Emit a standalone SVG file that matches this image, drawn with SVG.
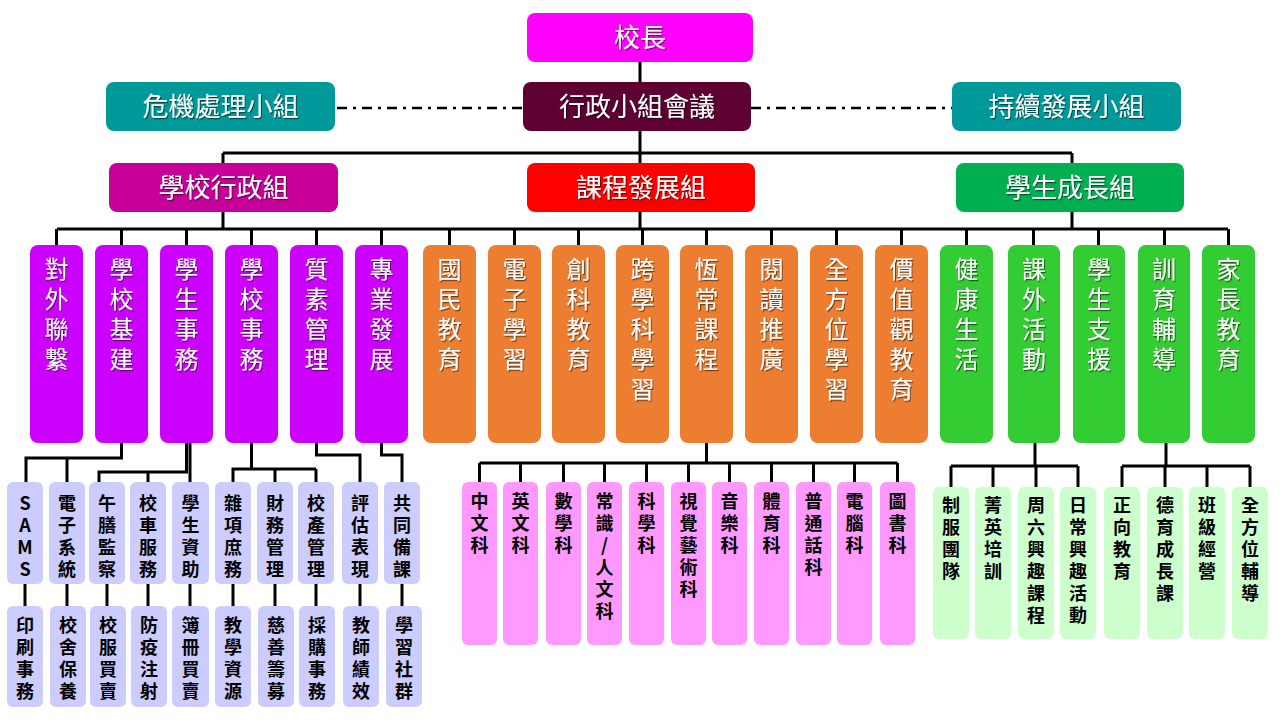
<svg xmlns="http://www.w3.org/2000/svg" width="1280" height="720" viewBox="0 0 1280 720">
<defs>
<filter id="sh" x="-30%" y="-10%" width="160%" height="120%"><feDropShadow dx="1" dy="1.2" stdDeviation="0.7" flood-color="#000" flood-opacity="0.55"/></filter>
</defs>
<style>
.t{font-family:"Noto Sans CJK TC","Noto Sans CJK SC",sans-serif;fill:#fff;text-anchor:middle;filter:url(#sh)}
.t26{font-size:26px}
.v{writing-mode:vertical-rl;text-orientation:upright;text-anchor:start}
.t24{font-size:24px;letter-spacing:6px}
.s{font-family:"Noto Sans CJK TC","Noto Sans CJK SC",sans-serif;font-weight:bold;font-size:18px;fill:#000;letter-spacing:4px}
.ln{stroke:#000;stroke-width:3;fill:none}
.dd{stroke:#000;stroke-width:2.5;fill:none;stroke-dasharray:10 6 3 6}
.pu{fill:#CC00FF}.or{fill:#ED7D31}.gr{fill:#33CC33}
.la{fill:#CCCCFF}.pk{fill:#FF99FF}.pg{fill:#CCFFCC}
</style>
<rect width="1280" height="720" fill="#fff"/>
<g id="connectors">
<path class="ln" d="M640 62V229M223 153H1072M223 153V163M1072 153V163M223 212V229M1072 212V229M57 229H1228"/>
<path class="dd" d="M337 108H523M751 108H952"/>
<path class="ln" d="M56.5 229V245M121.5 229V245M186.5 229V245M251.5 229V245M316.5 229V245M381.5 229V245M449.5 229V245M514.5 229V245M578.5 229V245M642.5 229V245M706.5 229V245M771.5 229V245M836.5 229V245M901.5 229V245M966.5 229V245M1033.5 229V245M1098.5 229V245M1164.5 229V245M1228.5 229V245"/>
<path class="ln" d="M121.5 443V458H26V482M67 458V482M186.5 443V472H99V482M148 472V482M190 443V482M251.5 443V469H233V482M275 469V482M316 469H251.5M316 469V482M316.5 443V455H360V482M381.5 443V455H402V482"/>
<path class="ln" d="M25 584V606M67 584V606M107 584V606M148 584V606M190 584V606M233 584V606M275 584V606M316 584V606M360 584V606M402 584V606"/>
<path class="ln" d="M706.5 443V463M479.5 463H897.5M479.5 463V482M520.5 463V482M563.5 463V482M604.5 463V482M646.5 463V482M688.5 463V482M729.5 463V482M771.5 463V482M813.5 463V482M854.5 463V482M897.5 463V482"/>
<path class="ln" d="M1035 443V466M951 466H1078M951 466V487M993 466V487M1036 466V487M1078 466V487M1166 443V466M1122 466H1250M1122 466V487M1165 466V487M1207 466V487M1250 466V487"/>
</g>
<g id="principal"><rect x="527" y="13" width="226" height="49" rx="8" fill="#FF00FF"/><text class="t t26" x="640" y="47">校長</text></g>
<g id="admin-meeting"><rect x="523" y="82" width="228" height="49" rx="8" fill="#5E0032"/><text class="t t26" x="637" y="116">行政小組會議</text></g>
<g id="crisis"><rect x="106" y="82" width="229" height="49" rx="8" fill="#00999A"/><text class="t t26" x="220.5" y="116">危機處理小組</text></g>
<g id="sustain"><rect x="952" y="82" width="229" height="49" rx="8" fill="#00999A"/><text class="t t26" x="1066.5" y="116">持續發展小組</text></g>
<g id="school-admin"><rect x="109" y="163" width="229" height="49" rx="8" fill="#C8009A"/><text class="t t26" x="223.5" y="197">學校行政組</text></g>
<g id="curriculum"><rect x="527" y="163" width="228" height="49" rx="8" fill="#FF0000"/><text class="t t26" x="641" y="197">課程發展組</text></g>
<g id="student-growth"><rect x="956" y="163" width="228" height="49" rx="8" fill="#00B050"/><text class="t t26" x="1070" y="197">學生成長組</text></g>

<g id="c1"><rect class="pu" x="30" y="245" width="53" height="198" rx="8"/><text class="t v t24" x="56.5" y="257">對外聯繫</text></g>
<g id="c2"><rect class="pu" x="95" y="245" width="53" height="198" rx="8"/><text class="t v t24" x="121.5" y="257">學校基建</text></g>
<g id="c3"><rect class="pu" x="160" y="245" width="53" height="198" rx="8"/><text class="t v t24" x="186.5" y="257">學生事務</text></g>
<g id="c4"><rect class="pu" x="225" y="245" width="53" height="198" rx="8"/><text class="t v t24" x="251.5" y="257">學校事務</text></g>
<g id="c5"><rect class="pu" x="290" y="245" width="53" height="198" rx="8"/><text class="t v t24" x="316.5" y="257">質素管理</text></g>
<g id="c6"><rect class="pu" x="355" y="245" width="53" height="198" rx="8"/><text class="t v t24" x="381.5" y="257">專業發展</text></g>
<g id="c7"><rect class="or" x="423" y="245" width="53" height="198" rx="8"/><text class="t v t24" x="449.5" y="257">國民教育</text></g>
<g id="c8"><rect class="or" x="488" y="245" width="53" height="198" rx="8"/><text class="t v t24" x="514.5" y="257">電子學習</text></g>
<g id="c9"><rect class="or" x="552" y="245" width="53" height="198" rx="8"/><text class="t v t24" x="578.5" y="257">創科教育</text></g>
<g id="c10"><rect class="or" x="616" y="245" width="53" height="198" rx="8"/><text class="t v t24" x="642.5" y="257">跨學科學習</text></g>
<g id="c11"><rect class="or" x="680" y="245" width="53" height="198" rx="8"/><text class="t v t24" x="706.5" y="257">恆常課程</text></g>
<g id="c12"><rect class="or" x="745" y="245" width="53" height="198" rx="8"/><text class="t v t24" x="771.5" y="257">閱讀推廣</text></g>
<g id="c13"><rect class="or" x="810" y="245" width="53" height="198" rx="8"/><text class="t v t24" x="836.5" y="257">全方位學習</text></g>
<g id="c14"><rect class="or" x="875" y="245" width="53" height="198" rx="8"/><text class="t v t24" x="901.5" y="257">價值觀教育</text></g>
<g id="c15"><rect class="gr" x="940" y="245" width="53" height="198" rx="8"/><text class="t v t24" x="966.5" y="257">健康生活</text></g>
<g id="c16"><rect class="gr" x="1008" y="245" width="52" height="198" rx="8"/><text class="t v t24" x="1034" y="257">課外活動</text></g>
<g id="c17"><rect class="gr" x="1073" y="245" width="52" height="198" rx="8"/><text class="t v t24" x="1099" y="257">學生支援</text></g>
<g id="c18"><rect class="gr" x="1138" y="245" width="52" height="198" rx="8"/><text class="t v t24" x="1164" y="257">訓育輔導</text></g>
<g id="c19"><rect class="gr" x="1202" y="245" width="53" height="198" rx="8"/><text class="t v t24" x="1228.5" y="257">家長教育</text></g>

<g id="a1"><rect class="la" x="7" y="482" width="36" height="102" rx="6"/><text class="s v" x="25" y="494">SAMS</text></g>
<g id="a2"><rect class="la" x="49" y="482" width="36" height="102" rx="6"/><text class="s v" x="67" y="494">電子系統</text></g>
<g id="a3"><rect class="la" x="89" y="482" width="36" height="102" rx="6"/><text class="s v" x="107" y="494">午膳監察</text></g>
<g id="a4"><rect class="la" x="130" y="482" width="36" height="102" rx="6"/><text class="s v" x="148" y="494">校車服務</text></g>
<g id="a5"><rect class="la" x="172" y="482" width="37" height="102" rx="6"/><text class="s v" x="190.5" y="494">學生資助</text></g>
<g id="a6"><rect class="la" x="215" y="482" width="36" height="102" rx="6"/><text class="s v" x="233" y="494">雜項庶務</text></g>
<g id="a7"><rect class="la" x="257" y="482" width="36" height="102" rx="6"/><text class="s v" x="275" y="494">財務管理</text></g>
<g id="a8"><rect class="la" x="298" y="482" width="36" height="102" rx="6"/><text class="s v" x="316" y="494">校產管理</text></g>
<g id="a9"><rect class="la" x="342" y="482" width="36" height="102" rx="6"/><text class="s v" x="360" y="494">評估表現</text></g>
<g id="a10"><rect class="la" x="384" y="482" width="36" height="102" rx="6"/><text class="s v" x="402" y="494">共同備課</text></g>

<g id="b1"><rect class="la" x="7" y="606" width="36" height="101" rx="6"/><text class="s v" x="25" y="616">印刷事務</text></g>
<g id="b2"><rect class="la" x="50" y="606" width="36" height="101" rx="6"/><text class="s v" x="68" y="616">校舍保養</text></g>
<g id="b3"><rect class="la" x="90" y="606" width="36" height="101" rx="6"/><text class="s v" x="108" y="616">校服買賣</text></g>
<g id="b4"><rect class="la" x="131" y="606" width="36" height="101" rx="6"/><text class="s v" x="149" y="616">防疫注射</text></g>
<g id="b5"><rect class="la" x="172" y="606" width="37" height="101" rx="6"/><text class="s v" x="190.5" y="616">簿冊買賣</text></g>
<g id="b6"><rect class="la" x="215" y="606" width="36" height="101" rx="6"/><text class="s v" x="233" y="616">教學資源</text></g>
<g id="b7"><rect class="la" x="258" y="606" width="36" height="101" rx="6"/><text class="s v" x="276" y="616">慈善籌募</text></g>
<g id="b8"><rect class="la" x="299" y="606" width="36" height="101" rx="6"/><text class="s v" x="317" y="616">採購事務</text></g>
<g id="b9"><rect class="la" x="343" y="606" width="36" height="101" rx="6"/><text class="s v" x="361" y="616">教師績效</text></g>
<g id="b10"><rect class="la" x="386" y="606" width="36" height="101" rx="6"/><text class="s v" x="404" y="616">學習社群</text></g>

<g id="p1"><rect class="pk" x="462" y="482" width="35" height="163" rx="6"/><text class="s v" x="479.5" y="492">中文科</text></g>
<g id="p2"><rect class="pk" x="503" y="482" width="35" height="163" rx="6"/><text class="s v" x="520.5" y="492">英文科</text></g>
<g id="p3"><rect class="pk" x="546" y="482" width="35" height="163" rx="6"/><text class="s v" x="563.5" y="492">數學科</text></g>
<g id="p4"><rect class="pk" x="587" y="482" width="35" height="163" rx="6"/><text class="s v" x="604.5" y="492">常識/人文科</text></g>
<g id="p5"><rect class="pk" x="629" y="482" width="35" height="163" rx="6"/><text class="s v" x="646.5" y="492">科學科</text></g>
<g id="p6"><rect class="pk" x="671" y="482" width="35" height="163" rx="6"/><text class="s v" x="688.5" y="492">視覺藝術科</text></g>
<g id="p7"><rect class="pk" x="712" y="482" width="35" height="163" rx="6"/><text class="s v" x="729.5" y="492">音樂科</text></g>
<g id="p8"><rect class="pk" x="754" y="482" width="35" height="163" rx="6"/><text class="s v" x="771.5" y="492">體育科</text></g>
<g id="p9"><rect class="pk" x="796" y="482" width="35" height="163" rx="6"/><text class="s v" x="813.5" y="492">普通話科</text></g>
<g id="p10"><rect class="pk" x="837" y="482" width="35" height="163" rx="6"/><text class="s v" x="854.5" y="492">電腦科</text></g>
<g id="p11"><rect class="pk" x="880" y="482" width="35" height="163" rx="6"/><text class="s v" x="897.5" y="492">圖書科</text></g>

<g id="g1"><rect class="pg" x="933" y="487" width="36" height="152" rx="6"/><text class="s v" x="951" y="496">制服團隊</text></g>
<g id="g2"><rect class="pg" x="975" y="487" width="36" height="152" rx="6"/><text class="s v" x="993" y="496">菁英培訓</text></g>
<g id="g3"><rect class="pg" x="1018" y="487" width="36" height="152" rx="6"/><text class="s v" x="1036" y="496">周六興趣課程</text></g>
<g id="g4"><rect class="pg" x="1060" y="487" width="36" height="152" rx="6"/><text class="s v" x="1078" y="496">日常興趣活動</text></g>
<g id="g5"><rect class="pg" x="1104" y="487" width="36" height="152" rx="6"/><text class="s v" x="1122" y="496">正向教育</text></g>
<g id="g6"><rect class="pg" x="1147" y="487" width="36" height="152" rx="6"/><text class="s v" x="1165" y="496">德育成長課</text></g>
<g id="g7"><rect class="pg" x="1189" y="487" width="36" height="152" rx="6"/><text class="s v" x="1207" y="496">班級經營</text></g>
<g id="g8"><rect class="pg" x="1232" y="487" width="36" height="152" rx="6"/><text class="s v" x="1250" y="496">全方位輔導</text></g>
</svg>
